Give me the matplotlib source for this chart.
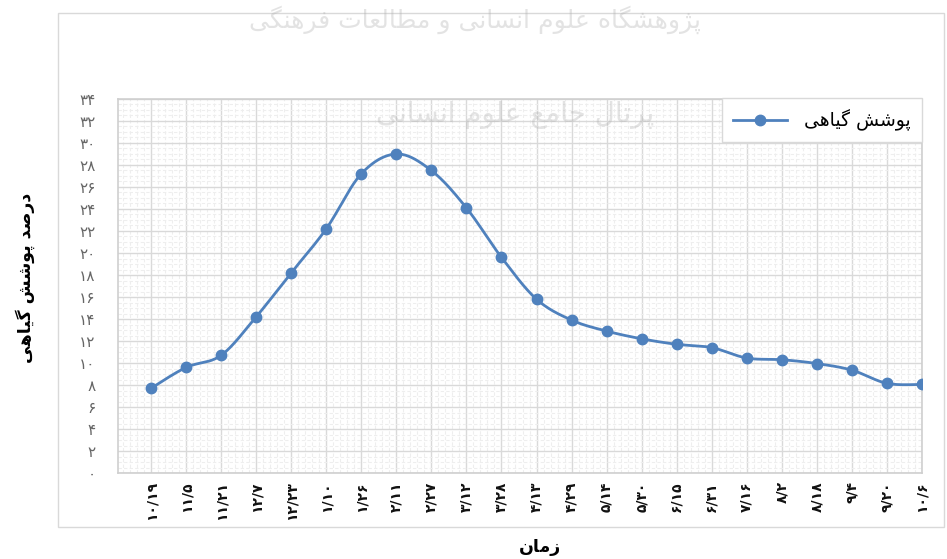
import matplotlib
matplotlib.use('Agg')
import matplotlib.pyplot as plt
from matplotlib.patches import Rectangle
from matplotlib.lines import Line2D
import numpy as np

# ---------------- data ----------------
dates = ['10/19', '11/5', '11/21', '12/7', '12/23', '1/10', '1/26', '2/11',
         '2/27', '3/12', '3/28', '4/13', '4/29', '5/14', '5/30', '6/15',
         '6/31', '7/16', '8/2', '8/18', '9/4', '9/20', '10/6']
cover = [7.7, 9.6, 10.7, 14.2, 18.2, 22.2, 27.2, 29.0, 27.5, 24.1, 19.6,
         15.8, 13.9, 12.9, 12.2, 11.7, 11.4, 10.45, 10.3, 9.95, 9.35, 8.15, 8.05]
y_ticks = list(range(0, 35, 2))
series_name = 'پوشش گیاهی'
y_title = 'درصد پوشش گیاهی'
x_title = 'زمان'
wm1 = 'پژوهشگاه علوم انسانی و مطالعات فرهنگی'
wm2 = 'پرتال جامع علوم انسانی'

# ------------- simple Persian shaping (presentation forms + RTL) -------------
FORMS = {
    'ا': ('\uFE8D', '\uFE8E', None, None),
    'د': ('\uFEA9', '\uFEAA', None, None),
    'ر': ('\uFEAD', '\uFEAE', None, None),
    'ز': ('\uFEAF', '\uFEB0', None, None),
    'ژ': ('\uFB8A', '\uFB8B', None, None),
    'و': ('\uFEED', '\uFEEE', None, None),
    'ص': ('\uFEB9', '\uFEBA', '\uFEBB', '\uFEBC'),
    'ش': ('\uFEB5', '\uFEB6', '\uFEB7', '\uFEB8'),
    'س': ('\uFEB1', '\uFEB2', '\uFEB3', '\uFEB4'),
    'م': ('\uFEE1', '\uFEE2', '\uFEE3', '\uFEE4'),
    'ن': ('\uFEE5', '\uFEE6', '\uFEE7', '\uFEE8'),
    'ه': ('\uFEE9', '\uFEEA', '\uFEEB', '\uFEEC'),
    'ع': ('\uFEC9', '\uFECA', '\uFECB', '\uFECC'),
    'ل': ('\uFEDD', '\uFEDE', '\uFEDF', '\uFEE0'),
    'ط': ('\uFEC1', '\uFEC2', '\uFEC3', '\uFEC4'),
    'ت': ('\uFE95', '\uFE96', '\uFE97', '\uFE98'),
    'ف': ('\uFED1', '\uFED2', '\uFED3', '\uFED4'),
    'ج': ('\uFE9D', '\uFE9E', '\uFE9F', '\uFEA0'),
    'پ': ('\uFB56', '\uFB57', '\uFB58', '\uFB59'),
    'گ': ('\uFB92', '\uFB93', '\uFB94', '\uFB95'),
    'ک': ('\uFB8E', '\uFB8F', '\uFB90', '\uFB91'),
    'ی': ('\uFBFC', '\uFBFD', '\uFBFE', '\uFBFF'),
}


def shape(text):
    out = []
    n = len(text)
    for i, ch in enumerate(text):
        if ch not in FORMS:
            out.append(ch)
            continue
        prev = text[i - 1] if i > 0 else None
        nxt = text[i + 1] if i < n - 1 else None
        jp = prev in FORMS and FORMS[prev][2] is not None
        jn = nxt in FORMS and FORMS[ch][2] is not None
        iso, fin, ini, med = FORMS[ch]
        if jp and jn:
            out.append(med)
        elif jp:
            out.append(fin)
        elif jn:
            out.append(ini)
        else:
            out.append(iso)
    return ''.join(out)[::-1]


PDIG = str.maketrans('0123456789', '۰۱۲۳۴۵۶۷۸۹')


def fa(s):
    return str(s).translate(PDIG)


# ------------- smoothed curve (Excel-like) -------------
def smooth(xs, ys, steps=24):
    xs = np.asarray(xs, float)
    ys = np.asarray(ys, float)
    n = len(xs)
    px, py = [], []
    for i in range(n - 1):
        x0, y0 = (xs[i - 1], ys[i - 1]) if i > 0 else (xs[i], ys[i])
        x1, y1 = xs[i], ys[i]
        x2, y2 = xs[i + 1], ys[i + 1]
        x3, y3 = (xs[i + 2], ys[i + 2]) if i + 2 < n else (xs[i + 1], ys[i + 1])
        c1x, c1y = x1 + (x2 - x0) / 6, y1 + (y2 - y0) / 6
        c2x, c2y = x2 - (x3 - x1) / 6, y2 - (y3 - y1) / 6
        t = np.linspace(0, 1, steps)
        bx = (1 - t) ** 3 * x1 + 3 * (1 - t) ** 2 * t * c1x + 3 * (1 - t) * t ** 2 * c2x + t ** 3 * x2
        by = (1 - t) ** 3 * y1 + 3 * (1 - t) ** 2 * t * c1y + 3 * (1 - t) * t ** 2 * c2y + t ** 3 * y2
        px.extend(bx)
        py.extend(by)
    return np.array(px), np.array(py)


plt.rcParams['font.family'] = ['DejaVu Sans']

W, H = 947, 559
fig = plt.figure(figsize=(W / 100, H / 100), dpi=100)

# outer chart border
fig.patches.append(Rectangle((58 / W, 1 - 527 / H), (944 - 58) / W, (527 - 13) / H,
                             transform=fig.transFigure, fill=False,
                             edgecolor='#d9d9d9', lw=1.0, zorder=0))

ax = fig.add_axes([118 / W, 1 - 473 / H, (922 - 118) / W, (473 - 99) / H])
x = np.arange(len(dates))
ax.set_xlim(-33 / 35, len(dates) - 1)
ax.set_ylim(0, 34)

ax.set_xticks(x)
ax.set_xticks(np.arange(-0.8, len(dates) - 1, 0.2), minor=True)
ax.set_yticks(y_ticks)
ax.set_yticks(np.arange(0, 34.01, 0.5), minor=True)
ax.set_xticklabels([fa(d) for d in dates], rotation=90, fontsize=10, color='#111111',
                   fontweight='bold')
ax.set_yticklabels([fa(v) for v in y_ticks], fontsize=11, color='#666666')
ax.tick_params(which='both', length=0)
ax.tick_params(axis='y', pad=16)
ax.tick_params(axis='x', pad=6)

ax.grid(which='minor', color='#eeeeee', lw=0.8, ls=(0, (3, 2)))
ax.grid(which='major', color='#d9d9d9', lw=1.0)
ax.set_axisbelow(True)
for sp in ax.spines.values():
    sp.set_color('#cfcfcf')
    sp.set_linewidth(1.2)

color = '#4F81BD'
sx, sy = smooth(x, cover)
ax.plot(sx, sy, color=color, lw=2.0, solid_capstyle='round', zorder=3)
ax.plot(x, cover, ls='none', marker='o', ms=7.5, color=color, zorder=4)

handle = Line2D([], [], color=color, lw=2.0, marker='o', ms=7.5)
leg = ax.legend([handle], [shape(series_name)], loc='upper right',
                bbox_to_anchor=(922 / W, 1 - 98 / H), bbox_transform=fig.transFigure,
                borderaxespad=0, fancybox=False, framealpha=1, edgecolor='#d9d9d9',
                fontsize=13.5, handlelength=2.9, handletextpad=0.9, borderpad=0.6)
leg.get_frame().set_linewidth(1.0)

fig.text(25 / W, 1 - 278 / H, shape(y_title), rotation=90, fontsize=12.5,
         fontweight='bold', ha='center', va='center')
fig.text(540 / W, 1 - 547 / H, shape(x_title), fontsize=12.5, fontweight='bold',
         ha='center', va='center')

# faint watermark
fig.text(475 / W, 1 - 20 / H, shape(wm1), fontsize=18, color='#b0b0b0', alpha=0.35,
         ha='center', va='center', zorder=5)
fig.text(515 / W, 1 - 115 / H, shape(wm2), fontsize=20, color='#b0b0b0', alpha=0.35,
         ha='center', va='center', zorder=5)

fig.savefig('out.png', dpi=100)
